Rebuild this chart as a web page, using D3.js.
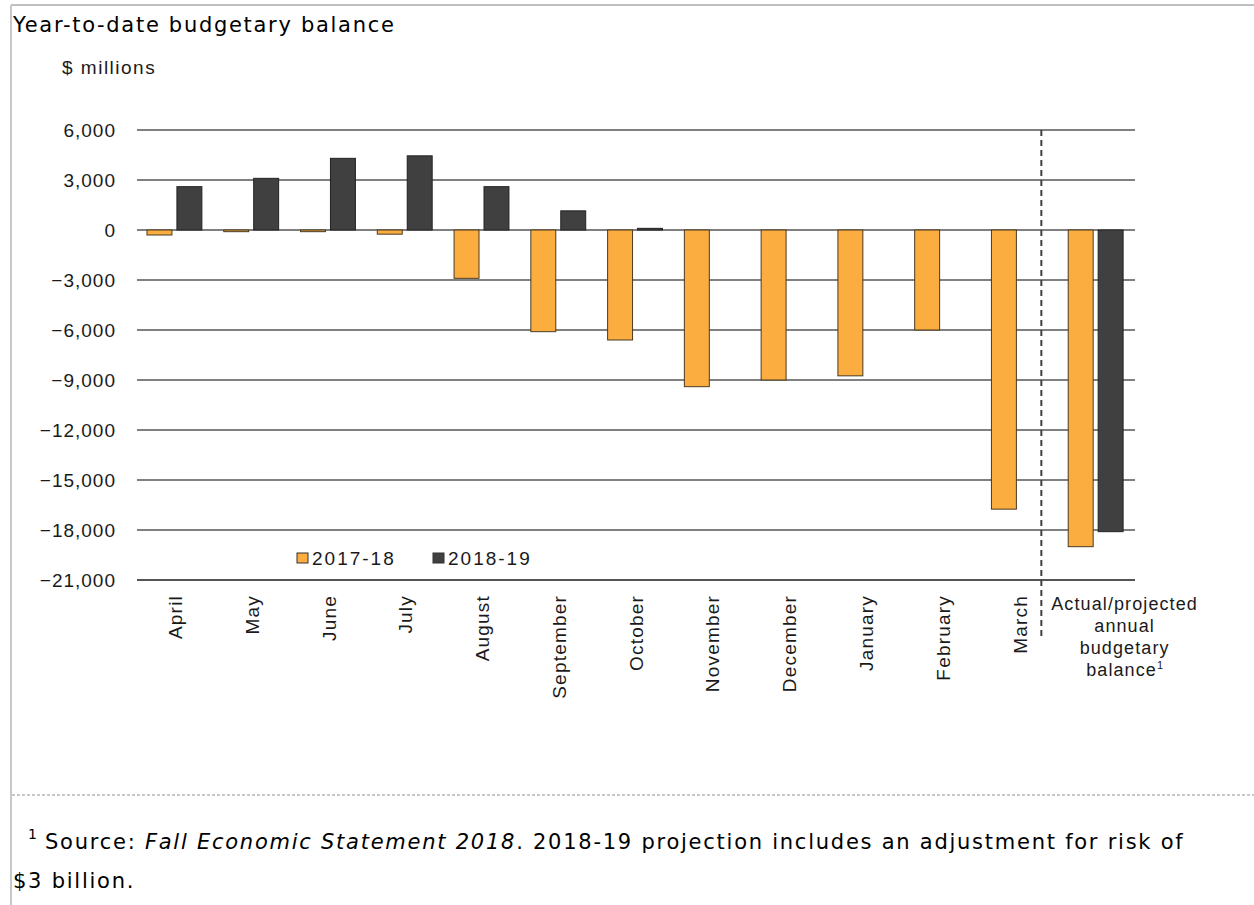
<!DOCTYPE html>
<html>
<head>
<meta charset="utf-8">
<script src="https://cdn.jsdelivr.net/npm/d3@7"></script>
<style>
  body { margin: 0; background: #fff; }
  svg { display: block; }
  .axis text { font-family: "Liberation Sans", Arial, sans-serif; font-size: 19px; fill: #1a1a1a; letter-spacing: 1.2px; }
</style>
</head>
<body>
<svg id="chart" width="1254" height="905"></svg>
<script>
// categories and values ($ millions)
const months = ["April", "May", "June", "July", "August", "September", "October",
  "November", "December", "January", "February", "March", "Annual"];
const series = ["2017-18", "2018-19"];
const values1718 = [-300, -100, -100, -250, -2900, -6100, -6600, -9400, -9000, -8750, -6000, -16750, -19000];
const values1819 = [2600, 3100, 4300, 4450, 2600, 1150, 100, null, null, null, null, null, -18100];
const yTicks = [6000, 3000, 0, -3000, -6000, -9000, -12000, -15000, -18000, -21000];
const annualLabel = ["Actual/projected", "annual", "budgetary", "balance"];
const colors = ["#fbad3f", "#404040"];

const svg = d3.select("#chart");

// page frame
svg.append("line").attr("x1", 11).attr("x2", 1254).attr("y1", 5).attr("y2", 5)
  .attr("stroke", "#c0c0c0").attr("stroke-width", 2);
svg.append("line").attr("x1", 11).attr("x2", 11).attr("y1", 5).attr("y2", 905)
  .attr("stroke", "#c8c8c8").attr("stroke-width", 2);
svg.append("line").attr("x1", 12).attr("x2", 1254).attr("y1", 795).attr("y2", 795)
  .attr("stroke", "#c8c8c8").attr("stroke-width", 2).attr("stroke-dasharray", "3,2");

svg.append("text").attr("x", 13).attr("y", 32)
  .style("font-family", "'DejaVu Sans', Verdana, sans-serif").style("font-size", "21px")
  .style("letter-spacing", "1.7px").attr("fill", "#000").text("Year-to-date budgetary balance");

svg.append("text").attr("x", 62).attr("y", 74)
  .style("font-family", "'Liberation Sans', Arial, sans-serif").style("font-size", "19px")
  .style("letter-spacing", "1.5px").attr("fill", "#1a1a1a").text("$ millions");

const x = d3.scaleBand().domain(months).range([137, 1135]).padding(0);
const bw = x.bandwidth();
const y = d3.scaleLinear().domain([-21000, 6000]).range([580, 130]);

// gridlines
svg.append("g").selectAll("line").data(yTicks).join("line")
  .attr("x1", 137).attr("x2", 1135)
  .attr("y1", d => y(d)).attr("y2", d => y(d))
  .attr("stroke", d => d === -21000 ? "#555" : "#808080")
  .attr("stroke-width", 2);

// y axis labels
const yAxis = svg.append("g").attr("class", "axis").attr("transform", "translate(116,0)")
  .call(d3.axisLeft(y).tickValues(yTicks).tickFormat(d3.format(",")).tickSize(0).tickPadding(0));
yAxis.select(".domain").remove();
yAxis.selectAll("text").attr("dy", "0.35em").style("letter-spacing", "1px");

// bars
const offsets = [0.13, 0.52];
const barW = bw * 0.325;
[values1718, values1819].forEach((vals, si) => {
  svg.append("g").selectAll("rect")
    .data(months.map((m, i) => ({ m, v: vals[i] })).filter(d => d.v !== null))
    .join("rect")
    .attr("x", d => x(d.m) + bw * offsets[si])
    .attr("width", barW)
    .attr("y", d => y(Math.max(0, d.v)))
    .attr("height", d => Math.max(1, Math.abs(y(d.v) - y(0))))
    .attr("fill", colors[si])
    .attr("stroke", si === 0 ? "#4a3b22" : "#222")
    .attr("stroke-width", 1);
});

// separator before annual balance
const sepX = x("Annual") - bw * 0.22;
svg.append("line").attr("x1", sepX).attr("x2", sepX).attr("y1", y(6000)).attr("y2", 636)
  .attr("stroke", "#404040").attr("stroke-width", 2).attr("stroke-dasharray", "6,4");

// month labels
svg.append("g").attr("class", "axis").selectAll("text")
  .data(months.slice(0, 12)).join("text")
  .attr("transform", d => `translate(${x(d) + bw / 2},595) rotate(-90)`)
  .attr("text-anchor", "end").attr("dy", "0.35em")
  .text(d => d);

const ann = svg.append("text")
  .style("font-family", "'Liberation Sans', Arial, sans-serif").style("font-size", "18px")
  .style("letter-spacing", "1.1px").attr("fill", "#1a1a1a").attr("text-anchor", "middle");
annualLabel.forEach((t, i) => {
  const ts = ann.append("tspan").attr("x", x("Annual") + bw / 2 + 28).attr("y", 610 + i * 22).text(t);
  if (i === annualLabel.length - 1) {
    ts.append("tspan").attr("font-size", "11px").attr("dy", "-7").style("letter-spacing", "0px").text("1");
  }
});

// legend
const legend = svg.append("g").attr("transform", "translate(297,553)");
series.forEach((s, i) => {
  const g = legend.append("g").attr("transform", `translate(${i * 136},0)`);
  g.append("rect").attr("width", 11).attr("height", 10).attr("fill", colors[i]).attr("stroke", "#333");
  g.append("text").attr("x", 15).attr("y", 12)
    .style("font-family", "'Liberation Sans', Arial, sans-serif").style("font-size", "19px")
    .style("letter-spacing", "2px").attr("fill", "#1a1a1a").text(s);
});

// footnote
const fn = svg.append("g").style("font-family", "'DejaVu Sans', Verdana, sans-serif")
  .style("font-size", "21px").style("letter-spacing", "1.75px").attr("fill", "#000");
fn.append("text").attr("x", 28).attr("y", 839).style("font-size", "14px").style("letter-spacing", "0px").text("1");
const line1 = fn.append("text").attr("x", 45).attr("y", 849);
line1.append("tspan").text("Source: ");
line1.append("tspan").style("font-style", "italic").text("Fall Economic Statement 2018");
line1.append("tspan").text(". 2018-19 projection includes an adjustment for risk of");
fn.append("text").attr("x", 13).attr("y", 888).text("$3 billion.");
</script>
</body>
</html>
